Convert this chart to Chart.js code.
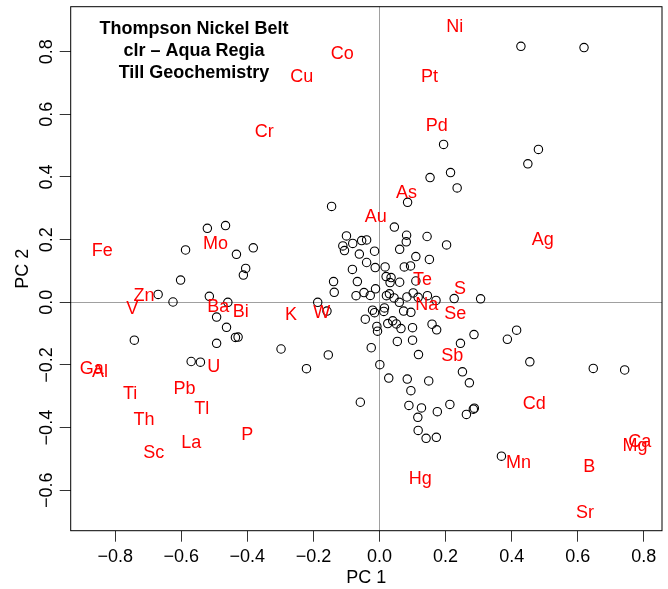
<!DOCTYPE html>
<html><head><meta charset="utf-8">
<script src="https://cdn.jsdelivr.net/npm/chart.js@4.4.1/dist/chart.umd.min.js"></script>
<style>html,body{margin:0;padding:0;background:#fff}</style>
</head><body>
<canvas id="c" width="668" height="589"></canvas>
<script>
// Sample scores (PC1, PC2)
const scoresX = [-0.521,-0.466,-0.587,-0.433,-0.382,-0.405,-0.412,-0.602,-0.670,-0.625,-0.515,-0.459,-0.493,-0.463,-0.436,-0.428,-0.493,-0.742,-0.570,-0.542,-0.298,-0.187,-0.159,-0.155,-0.221,-0.058,-0.145,-0.100,-0.111,-0.106,-0.081,-0.054,-0.039,-0.015,-0.061,-0.039,-0.013,-0.082,-0.139,-0.137,-0.067,-0.071,-0.047,-0.028,-0.012,-0.021,-0.015,-0.043,-0.008,-0.006,-0.025,0.001,0.017,0.020,0.035,0.032,0.061,0.061,0.045,0.082,0.081,0.085,0.144,0.203,0.110,0.151,0.094,0.075,0.021,0.030,0.044,0.060,0.073,0.083,0.102,0.117,0.145,0.171,0.226,0.306,0.110,0.015,0.013,0.095,0.040,0.025,0.051,0.065,0.100,0.159,0.173,0.054,0.100,0.118,0.286,0.245,0.387,0.415,0.455,0.647,0.742,0.028,0.084,0.149,0.095,0.251,0.272,0.089,0.127,0.213,0.175,0.116,0.263,0.284,0.287,0.117,0.141,0.172,0.369,0.428,0.619,0.194,0.481,0.449,0.153,0.215,0.235];
const scoresY = [0.236,0.245,0.167,0.153,0.174,0.108,0.087,0.071,0.025,0.001,0.019,0.000,-0.047,-0.080,-0.112,-0.111,-0.131,-0.121,-0.189,-0.191,-0.149,0.000,-0.028,-0.168,-0.212,-0.319,0.306,0.212,0.180,0.165,0.188,0.197,0.199,0.163,0.154,0.127,0.111,0.105,0.066,0.032,0.066,0.021,0.031,0.022,0.043,-0.025,-0.033,-0.054,-0.077,-0.092,-0.145,-0.199,0.113,0.082,0.079,0.063,0.064,0.169,0.240,0.214,0.193,0.319,0.210,0.183,0.146,0.137,0.116,0.113,0.021,0.027,0.014,0.000,-0.028,0.017,0.030,0.016,0.021,0.006,0.012,0.011,0.068,-0.018,-0.029,-0.032,-0.059,-0.068,-0.069,-0.084,-0.081,-0.070,-0.088,-0.125,-0.121,-0.167,-0.103,-0.131,-0.118,-0.089,-0.190,-0.211,-0.216,-0.242,-0.245,-0.251,-0.282,-0.222,-0.257,-0.329,-0.337,-0.326,-0.349,-0.367,-0.358,-0.341,-0.338,-0.409,-0.434,-0.431,-0.491,0.817,0.813,0.504,0.488,0.442,0.398,0.414,0.365];

// Variable loadings (element labels)
const elements = ['Co','Cu','Cr','Fe','Mo','Ni','Pt','Pd','As','Au','Ag','Te','S','Zn','V','Ba','Bi','K','W','Ga','Al','U','Ti','Pb','Tl','Th','P','La','Sc','Na','Se','Sb','Cd','Ca','Mg','Mn','B','Hg','Sr'];
const loadX = [-0.113,-0.235,-0.349,-0.839,-0.496,0.228,0.151,0.173,0.082,-0.011,0.494,0.130,0.244,-0.713,-0.748,-0.488,-0.420,-0.268,-0.175,-0.871,-0.846,-0.502,-0.755,-0.590,-0.538,-0.713,-0.400,-0.570,-0.683,0.143,0.229,0.220,0.468,0.788,0.773,0.421,0.635,0.123,0.622];
const loadY = [0.795,0.722,0.547,0.167,0.188,0.880,0.720,0.564,0.350,0.275,0.202,0.073,0.045,0.023,-0.019,-0.012,-0.028,-0.037,-0.032,-0.211,-0.219,-0.203,-0.290,-0.273,-0.338,-0.372,-0.421,-0.448,-0.480,-0.006,-0.036,-0.168,-0.322,-0.445,-0.455,-0.512,-0.525,-0.563,-0.669];

// Axes
const xTicks = [-0.8,-0.6,-0.4,-0.2,0.0,0.2,0.4,0.6,0.8];
const xTickLabels = ['\u22120.8','\u22120.6','\u22120.4','\u22120.2','0.0','0.2','0.4','0.6','0.8'];
const yTicks = [-0.6,-0.4,-0.2,0.0,0.2,0.4,0.6,0.8];
const yTickLabels = ['\u22120.6','\u22120.4','\u22120.2','0.0','0.2','0.4','0.6','0.8'];
const xRange = [-0.9346, 0.855];
const yRange = [-0.729, 0.9435];
const xTitle = 'PC 1';
const yTitle = 'PC 2';
const titleLines = ['Thompson Nickel Belt','clr \u2013 Aqua Regia','Till Geochemistry'];

const FONT = '"Liberation Sans", Arial, Helvetica, sans-serif';
const refGray = '#a0a0a0';

const boxPlugin = {
  id: 'box',
  beforeDatasetsDraw(chart) {
    const {ctx, chartArea: a} = chart;
    ctx.save();
    ctx.strokeStyle = '#000';
    ctx.lineWidth = 1;
    ctx.strokeRect(a.left, a.top, a.right - a.left, a.bottom - a.top);
    ctx.restore();
  }
};

const labelPlugin = {
  id: 'labels',
  afterDatasetsDraw(chart) {
    const {ctx, chartArea: a, scales: {x, y}} = chart;
    ctx.save();
    ctx.font = '18px ' + FONT;
    ctx.fillStyle = '#ff0000';
    ctx.textAlign = 'center';
    ctx.textBaseline = 'middle';
    elements.forEach((el, i) => {
      ctx.fillText(el, x.getPixelForValue(loadX[i]), y.getPixelForValue(loadY[i]) + 0.7);
    });
    ctx.font = 'bold 18px ' + FONT;
    ctx.fillStyle = '#000';
    titleLines.forEach((t, i) => {
      ctx.fillText(t, a.left + 123.3, a.top + 22.8 + i * 21.8);
    });
    ctx.restore();
  }
};

new Chart(document.getElementById('c'), {
  type: 'scatter',
  data: {
    datasets: [{
      data: scoresX.map((v, i) => ({x: v, y: scoresY[i]})),
      pointStyle: 'circle',
      pointRadius: 4.2,
      pointBorderWidth: 1.1,
      pointBorderColor: '#000',
      pointBackgroundColor: 'rgba(0,0,0,0)',
      pointHoverRadius: 4.2
    }]
  },
  options: {
    responsive: false,
    devicePixelRatio: 1,
    animation: false,
    events: [],
    layout: {padding: {left: 0, top: 6.7, right: 6, bottom: 0}},
    plugins: {legend: {display: false}, tooltip: {enabled: false}, title: {display: false}},
    scales: {
      x: {
        type: 'linear', min: xRange[0], max: xRange[1],
        afterBuildTicks: s => { s.ticks = xTicks.map(v => ({value: v})); },
        afterFit: s => { s.height = 58.3; },
        border: {display: false},
        grid: {
          drawOnChartArea: true, drawTicks: true, tickLength: 11,
          color: c => (c.tick && c.tick.value === 0) ? refGray : 'rgba(0,0,0,0)',
          tickColor: '#333', lineWidth: 1
        },
        ticks: {
          autoSkip: false, maxRotation: 0, minRotation: 0, padding: 4.5, color: '#000',
          font: {family: FONT, size: 18},
          callback: (v, i) => xTickLabels[i]
        },
        title: {display: true, text: xTitle, color: '#000', font: {family: FONT, size: 18}, padding: {top: 0, bottom: 0.4}}
      },
      y: {
        type: 'linear', min: yRange[0], max: yRange[1],
        afterBuildTicks: s => { s.ticks = yTicks.map(v => ({value: v})); },
        afterFit: s => { s.width = 70.7; },
        border: {display: false},
        grid: {
          drawOnChartArea: true, drawTicks: true, tickLength: 11,
          color: c => (c.tick && c.tick.value === 0) ? refGray : 'rgba(0,0,0,0)',
          tickColor: '#333', lineWidth: 1
        },
        ticks: {
          autoSkip: false, minRotation: 90, maxRotation: 90, crossAlign: 'center', padding: -5.2, color: '#000',
          font: {family: FONT, size: 18},
          callback: (v, i) => yTickLabels[i]
        },
        title: {display: true, text: yTitle, color: '#000', font: {family: FONT, size: 18}, padding: {top: 12.6, bottom: 0}}
      }
    }
  },
  plugins: [boxPlugin, labelPlugin]
});
</script>
</body></html>
